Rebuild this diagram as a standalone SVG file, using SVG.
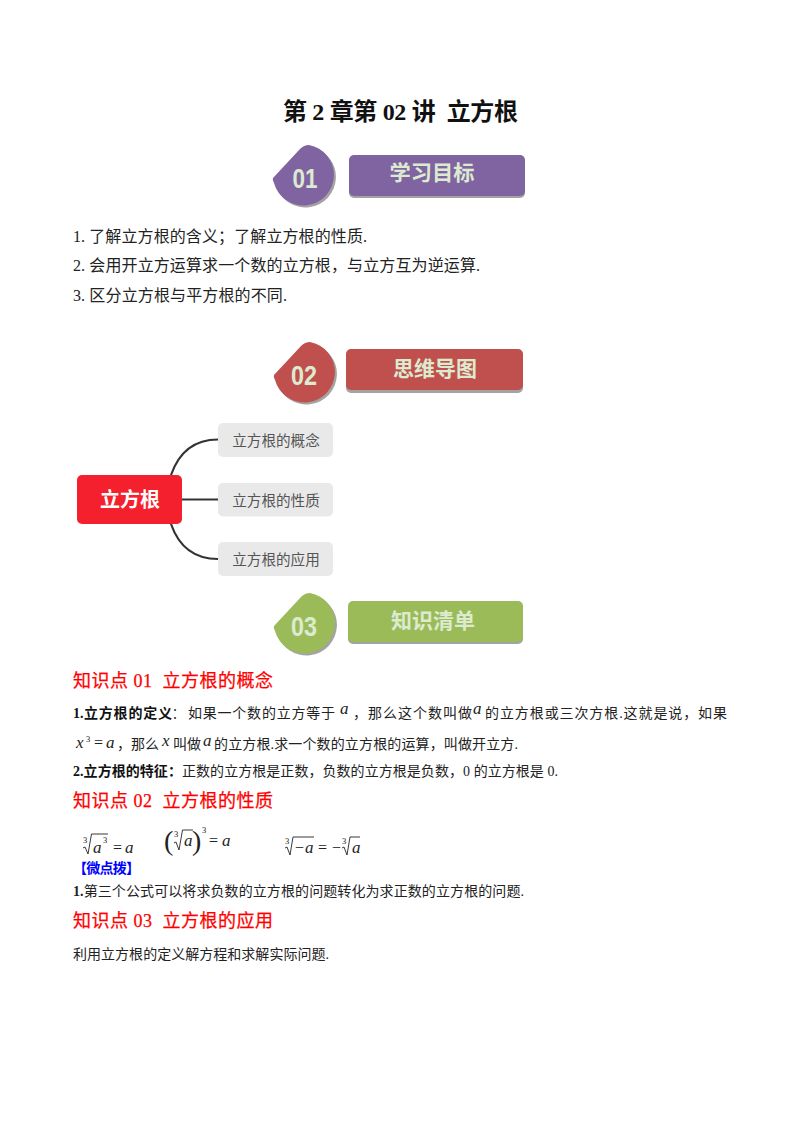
<svg xmlns="http://www.w3.org/2000/svg" width="800" height="1132" viewBox="0 0 800 1132">
<defs>
<filter id="soft" x="-5%" y="-5%" width="110%" height="110%"><feGaussianBlur stdDeviation="0.5"/></filter>
<path id="drop" d="M0 33 L27 4 Q31 0 36 0 A30.5 30.5 0 1 1 1 38 Q-1 35 0 33 Z"/>
</defs>
<style>
text{font-family:"Liberation Serif","Noto Sans CJK SC",serif;fill:#111}
.cjk{font-family:"Noto Sans CJK SC","Liberation Sans",sans-serif}
.b{font-size:14px;fill:#222}
.bb{font-size:14px;font-weight:700;fill:#111}
.h{font-size:18px;fill:#f00;stroke:#f00;stroke-width:.25}
.l{font-size:16px;fill:#222}
.m{font-style:italic;font-size:17px;fill:#222}
.n{font-size:16px;fill:#222}
.s{font-size:8.500px;fill:#222}
.p{font-size:28px;font-weight:200;fill:#222}
.bt{font-family:"Noto Sans CJK SC",sans-serif;font-size:21px;font-weight:700;fill:#dcebd0;text-anchor:middle}
.bn{font-family:"Liberation Sans",sans-serif;font-size:28px;font-weight:700;fill:#dcebd0;text-anchor:middle}
.c{fill:#e9e9e9}
.ct{font-family:"Noto Sans CJK SC",sans-serif;font-size:14.600px;fill:#555;text-anchor:middle}
.conn{fill:none;stroke:#333;stroke-width:2.200}
.rad{fill:none;stroke:#222;stroke-width:.9}
.sh{fill:#a3a3a3}
</style>
<rect width="800" height="1132" fill="#fff"/>
<text id="title" x="283" y="120" font-size="24" font-weight="700" textLength="235" style="fill:#111">第 2 章第 02 讲&#160;&#160;立方根</text>

<g id="badge-01">
<use href="#drop" x="275" y="147" class="sh" filter="url(#soft)"/>
<use href="#drop" x="273" y="145" fill="#8064a2"/>
<text class="bn" x="305" y="188" textLength="25" lengthAdjust="spacingAndGlyphs">01</text>
<rect x="349" y="157" width="176" height="41" rx="5" class="sh" filter="url(#soft)"/>
<rect x="349" y="155" width="176" height="41" rx="5" fill="#8064a2"/>
<text class="bt" x="432" y="180" textLength="85" lengthAdjust="spacingAndGlyphs">学习目标</text>
</g>

<g id="objectives">
<text class="l" x="73" y="242" textLength="294">1. 了解立方根的含义；了解立方根的性质.</text>
<text class="l" x="73" y="271" textLength="407">2. 会用开立方运算求一个数的立方根，与立方互为逆运算.</text>
<text class="l" x="73" y="301" textLength="214">3. 区分立方根与平方根的不同.</text>
</g>

<g id="badge-02">
<use href="#drop" x="276" y="344" class="sh" filter="url(#soft)"/>
<use href="#drop" x="274" y="342" fill="#c0504d"/>
<text class="bn" x="304" y="385" textLength="26" lengthAdjust="spacingAndGlyphs">02</text>
<rect x="346" y="352" width="177" height="41" rx="5" class="sh" filter="url(#soft)"/>
<rect x="346" y="349" width="177" height="41" rx="5" fill="#c0504d"/>
<text class="bt" x="435" y="376" textLength="84" lengthAdjust="spacingAndGlyphs">思维导图</text>
</g>

<g id="connectors">
<path class="conn" d="M171 475 C178 455 192 439.500 218 439.500"/>
<path class="conn" d="M182 499.500 L218 499.500"/>
<path class="conn" d="M171 524 C178 544 192 559 218 559"/>
</g>
<g id="root">
<rect x="77" y="475" width="105" height="49" rx="5" fill="#f5202e"/>
<text x="130" y="507" text-anchor="middle" font-size="20" font-weight="700" class="cjk" style="fill:#fff">立方根</text>
</g>
<g id="child-1"><rect class="c" x="218" y="423" width="115" height="34" rx="5"/><text class="ct" x="276" y="445.500">立方根的概念</text></g>
<g id="child-2"><rect class="c" x="218" y="483" width="115" height="33.500" rx="5"/><text class="ct" x="276" y="505.500">立方根的性质</text></g>
<g id="child-3"><rect class="c" x="218" y="542" width="115" height="34" rx="5"/><text class="ct" x="276" y="564.500">立方根的应用</text></g>

<g id="badge-03">
<use href="#drop" x="276" y="595" class="sh" filter="url(#soft)"/>
<use href="#drop" x="274" y="593" fill="#9bbb59"/>
<text class="bn" x="304" y="636" textLength="26" lengthAdjust="spacingAndGlyphs">03</text>
<rect x="348" y="603" width="175" height="41" rx="5" class="sh" filter="url(#soft)"/>
<rect x="348" y="601" width="175" height="41" rx="5" fill="#9bbb59"/>
<text class="bt" x="433" y="628" textLength="84" lengthAdjust="spacingAndGlyphs">知识清单</text>
</g>

<g id="section-1">
<text class="h" x="73" y="687" textLength="200">知识点 01&#160;&#160;立方根的概念</text>
<text class="bb" x="73" y="718">1.</text>
<text class="bb" x="84" y="718" textLength="88">立方根的定义</text>
<text class="b" x="172" y="718" textLength="12" lengthAdjust="spacingAndGlyphs">：</text>
<text class="b" x="188" y="718" textLength="147">如果一个数的立方等于</text>
<text class="m" x="340" y="714">a</text>
<text class="b" x="353" y="718" textLength="119">，那么这个数叫做</text>
<text class="m" x="473" y="714">a</text>
<text class="b" x="485" y="718" textLength="242">的立方根或三次方根.这就是说，如果</text>
<text class="m" x="76" y="748">x</text><text class="s" x="86" y="742">3</text>
<text class="n" x="94" y="748">=</text>
<text class="m" x="106" y="748">a</text>
<text class="b" x="117" y="749" textLength="42">，那么</text>
<text class="m" x="162" y="746">x</text>
<text class="b" x="173" y="749" textLength="28">叫做</text>
<text class="m" x="203" y="746">a</text>
<text class="b" x="214" y="749" textLength="304">的立方根.求一个数的立方根的运算，叫做开立方.</text>
<text class="b" x="73" y="776" textLength="485"><tspan class="bb">2.立方根的特征：</tspan>正数的立方根是正数，负数的立方根是负数，0 的立方根是 0.</text>
</g>

<g id="section-2">
<text class="h" x="73" y="807" textLength="200">知识点 02&#160;&#160;立方根的性质</text>
<text class="s" x="83" y="843">3</text>
<path class="rad" d="M83 848 L85 847 L88 854 L91.500 834 H108"/>
<text class="m" x="93" y="853">a</text><text class="s" x="103" y="843">3</text>
<text class="n" x="113" y="853">=</text>
<text class="m" x="125" y="853">a</text>

<text class="p" x="164" y="850">(</text>
<text class="s" x="174" y="837">3</text>
<path class="rad" d="M174 843 L176 842 L179 850 L182.500 830 H193"/>
<text class="m" x="184" y="846">a</text>
<text class="p" x="192" y="850">)</text>
<text class="s" x="202" y="833">3</text>
<text class="n" x="209" y="846">=</text>
<text class="m" x="222" y="846">a</text>

<text class="s" x="285" y="844">3</text>
<path class="rad" d="M285 848 L287 847 L290 855 L293 837 H314"/>
<text class="n" x="295" y="853">−</text>
<text class="m" x="305" y="853">a</text>
<text class="n" x="318" y="853">=</text>
<text class="n" x="332" y="853">−</text>
<text class="s" x="342" y="844">3</text>
<path class="rad" d="M342 848 L344 847 L347 855 L350 837 H360"/>
<text class="m" x="352" y="853">a</text>

<text x="73" y="873" font-size="14" font-weight="700" style="fill:#00f" textLength="67">【微点拨】</text>
<text class="b" x="73" y="896" textLength="451"><tspan style="font-weight:700">1.</tspan>第三个公式可以将求负数的立方根的问题转化为求正数的立方根的问题.</text>
</g>

<g id="section-3">
<text class="h" x="73" y="927" textLength="200">知识点 03&#160;&#160;立方根的应用</text>
<text class="b" x="73" y="959" textLength="256">利用立方根的定义解方程和求解实际问题.</text>
</g>
</svg>
